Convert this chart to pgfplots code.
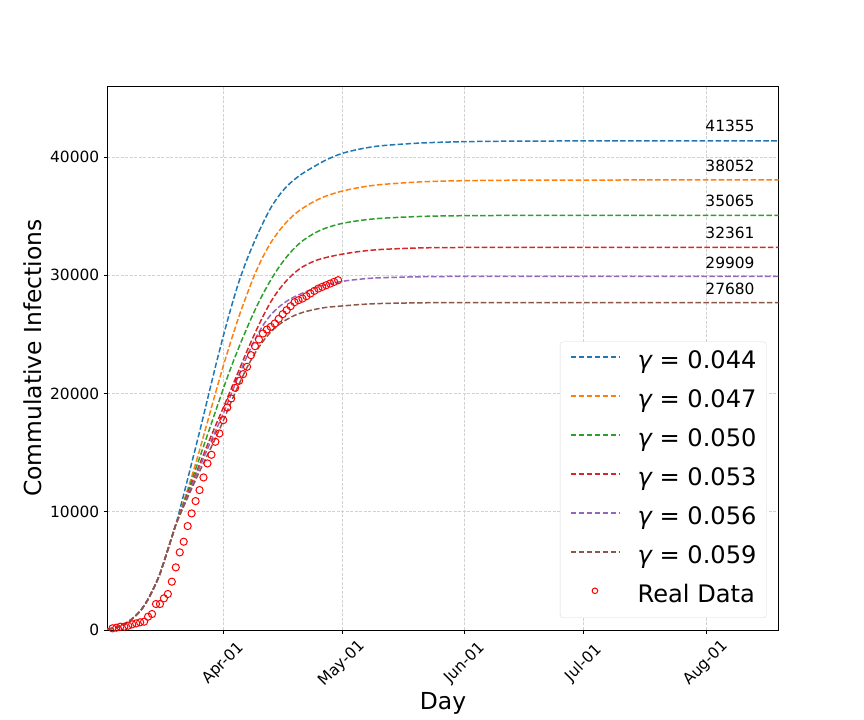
\documentclass[border=0pt]{standalone}
\usepackage{pgfplots}
\pgfplotsset{compat=1.18}
\usepackage{fontspec}
\setmainfont{DejaVu Sans}
\definecolor{c0}{HTML}{1F77B4}
\definecolor{c1}{HTML}{FF7F0E}
\definecolor{c2}{HTML}{2CA02C}
\definecolor{c3}{HTML}{D62728}
\definecolor{c4}{HTML}{9467BD}
\definecolor{c5}{HTML}{8C564B}
\pgfplotsset{dotlegend/.style={legend image code/.code={\draw[mark repeat=2,mark phase=2,##1, mark size=2.8bp] plot coordinates {(0bp,6bp) (24bp,6bp) (48bp,6bp)};}}}
\begin{document}
\begin{tikzpicture}
\begin{axis}[
  at={(107.3bp,90bp)}, anchor=south west,
  scale only axis, width=671.4bp, height=544bp,
  xmin=-29.3, xmax=140.3, ymin=0, ymax=46000,
  xtick={0,30,61,91,122},
  xticklabels={Apr-01,May-01,Jun-01,Jul-01,Aug-01},
  ytick={0,10000,20000,30000,40000},
  scaled y ticks=false,
  /pgf/number format/1000 sep={},
  /pgf/number format/assume math mode=true,
  ticklabel style={font=\fontsize{15.5}{18}\selectfont},
  xticklabel style={yshift=-30bp, rotate=45, anchor=center},
  yticklabel style={xshift=-1bp},
  xtick pos=bottom, ytick pos=left,
  tick align=outside, major tick length=3.5bp,
  tick style={black, line width=0.8bp},
  axis line style={black, line width=0.9bp},
  grid=major,
  major grid style={gray!35, line width=0.7bp, dash pattern=on 3bp off 1.5bp},
  xlabel={Day}, ylabel={Commulative Infections},
  label style={font=\fontsize{23.5}{28}\selectfont},
  xlabel style={at={(axis description cs:0.5,-0.1342)}, anchor=center},
  ylabel style={at={(axis description cs:-0.1117,0.5)}, anchor=center},
  legend style={at={(1,0)}, anchor=south east, xshift=-12bp, yshift=12bp,
    font=\fontsize{24.2}{29}\selectfont, draw=gray!30, rounded corners=3bp,
    fill=white, inner xsep=10bp, inner ysep=10bp, row sep=17bp,
    nodes={inner sep=0bp, text height=17bp, text depth=5bp},
    /tikz/every odd column/.append style={column sep=18bp}},
  legend cell align=left,
  legend image code/.code={\draw[#1] (0bp,6bp) -- (48bp,6bp);},
  every axis plot/.append style={line width=1.5bp, dash pattern=on 5.55bp off 2.4bp},
]
\addplot[c0, smooth] coordinates {(-29.3,80) (-28,140) (-27,220) (-26,330) (-25,500) (-24,700) (-23,950) (-22,1250) (-21,1600) (-20,2050) (-19,2600) (-18,3250) (-17,3950) (-16,4750) (-15,5750) (-14,6800) (-13,7850) (-12,8900) (-10,11450) (-8,14100) (-6,16750) (-4,19500) (-2,22250) (0,24850) (2,27300) (4,29500) (6,31350) (8,32950) (10,34400) (12,35700) (14,36700) (16,37500) (18,38100) (20,38600) (23,39200) (26,39750) (30,40300) (35,40700) (40,40950) (50,41180) (60,41285) (75,41340) (100,41354) (140.3,41355)};
\addlegendentry{{\itshape γ} = 0.044}
\addplot[c1, smooth] coordinates {(-29.3,80) (-28,140) (-27,220) (-26,330) (-25,500) (-24,700) (-23,950) (-22,1250) (-21,1600) (-20,2050) (-19,2600) (-18,3250) (-17,3950) (-16,4750) (-15,5750) (-14,6800) (-13,7850) (-12,8900) (-10,10850) (-8,12950) (-6,15200) (-4,17600) (-2,20000) (0,22330) (2,24500) (4,26550) (6,28400) (8,30100) (10,31550) (12,32750) (14,33700) (16,34500) (18,35150) (20,35650) (23,36250) (26,36700) (30,37112) (35,37452) (40,37669) (50,37896) (60,37989) (75,38036) (100,38051) (140.3,38052)};
\addlegendentry{{\itshape γ} = 0.047}
\addplot[c2, smooth] coordinates {(-29.3,80) (-28,140) (-27,220) (-26,330) (-25,500) (-24,700) (-23,950) (-22,1250) (-21,1600) (-20,2050) (-19,2600) (-18,3250) (-17,3950) (-16,4750) (-15,5750) (-14,6800) (-13,7850) (-12,8900) (-10,10750) (-8,12650) (-6,14550) (-4,16500) (-2,18450) (0,20400) (2,22250) (4,23950) (6,25550) (8,27050) (10,28400) (12,29600) (14,30650) (16,31550) (18,32300) (20,32900) (23,33550) (26,34000) (30,34380) (35,34650) (40,34815) (50,34972) (60,35030) (75,35057) (100,35065) (140.3,35065)};
\addlegendentry{{\itshape γ} = 0.050}
\addplot[c3, smooth] coordinates {(-29.3,80) (-28,140) (-27,220) (-26,330) (-25,500) (-24,700) (-23,950) (-22,1250) (-21,1600) (-20,2050) (-19,2600) (-18,3250) (-17,3950) (-16,4750) (-15,5750) (-14,6800) (-13,7850) (-12,8900) (-10,10650) (-8,12350) (-6,14000) (-4,15650) (-2,17250) (0,18800) (2,20400) (4,22000) (6,23600) (8,25100) (10,26500) (12,27750) (14,28750) (16,29550) (18,30200) (20,30700) (23,31200) (26,31500) (30,31780) (35,32030) (40,32180) (50,32310) (60,32345) (75,32358) (100,32361) (140.3,32361)};
\addlegendentry{{\itshape γ} = 0.053}
\addplot[c4, smooth] coordinates {(-29.3,80) (-28,140) (-27,220) (-26,330) (-25,500) (-24,700) (-23,950) (-22,1250) (-21,1600) (-20,2050) (-19,2600) (-18,3250) (-17,3950) (-16,4750) (-15,5750) (-14,6800) (-13,7850) (-12,8900) (-10,10550) (-8,12150) (-6,13750) (-4,15300) (-2,16800) (0,18300) (2,19950) (4,21600) (6,23150) (8,24550) (10,25750) (12,26650) (14,27300) (16,27800) (18,28180) (20,28480) (23,28900) (26,29200) (30,29480) (35,29680) (40,29790) (50,29870) (60,29898) (75,29907) (100,29909) (140.3,29909)};
\addlegendentry{{\itshape γ} = 0.056}
\addplot[c5, smooth] coordinates {(-29.3,80) (-28,140) (-27,220) (-26,330) (-25,500) (-24,700) (-23,950) (-22,1250) (-21,1600) (-20,2050) (-19,2600) (-18,3250) (-17,3950) (-16,4750) (-15,5750) (-14,6800) (-13,7850) (-12,8900) (-10,10450) (-8,11950) (-6,13400) (-4,14800) (-2,16200) (0,17700) (2,19300) (4,20800) (6,22200) (8,23400) (10,24400) (12,25200) (14,25800) (16,26250) (18,26600) (20,26850) (23,27100) (26,27280) (30,27400) (35,27530) (40,27610) (50,27668) (60,27678) (75,27680) (140.3,27680)};
\addlegendentry{{\itshape γ} = 0.059}
\addplot[red, only marks, solid, mark=o, mark size=3.6bp, line width=1bp, dotlegend]
  coordinates {(-28,141) (-27,197) (-26,282) (-25,282) (-24,366) (-23,479) (-22,560) (-21,650) (-20,704) (-19,1127) (-18,1352) (-17,2197) (-16,2197) (-15,2676) (-14,3042) (-13,4085) (-12,5296) (-11,6563) (-10,7465) (-9,8789) (-8,9859) (-7,10901) (-6,11831) (-5,12901) (-4,14085) (-3,14817) (-2,15915) (-1,16620) (0,17746) (1,18817) (2,19577) (3,20479) (4,21070) (5,21634) (6,22254) (7,23239) (8,24000) (9,24563) (10,25070) (11,25408) (12,25634) (13,25915) (14,26310) (15,26704) (16,27042) (17,27380) (18,27718) (19,27887) (20,28028) (21,28225) (22,28451) (23,28676) (24,28873) (25,29014) (26,29155) (27,29296) (28,29437) (29,29577)};
\addlegendentry{Real Data}
\node[font=\fontsize{15.5}{18}\selectfont] at (axis cs:128,42620) {41355};
\node[font=\fontsize{15.5}{18}\selectfont] at (axis cs:128,39270) {38052};
\node[font=\fontsize{15.5}{18}\selectfont] at (axis cs:128,36280) {35065};
\node[font=\fontsize{15.5}{18}\selectfont] at (axis cs:128,33550) {32361};
\node[font=\fontsize{15.5}{18}\selectfont] at (axis cs:128,31060) {29909};
\node[font=\fontsize{15.5}{18}\selectfont] at (axis cs:128,28810) {27680};
\end{axis}
\pgfresetboundingbox
\path[use as bounding box] (0,0) rectangle (864bp,720bp);
\end{tikzpicture}
\end{document}
